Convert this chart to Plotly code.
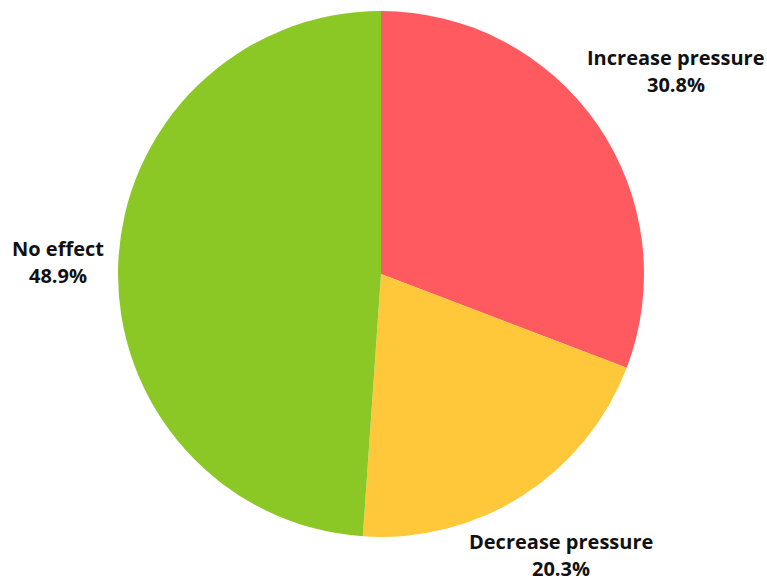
import math
import plotly.graph_objects as go

# Survey responses: effect on pressure
labels = ["Increase pressure", "Decrease pressure", "No effect"]
shares = [30.8, 20.3, 48.9]
colors = ["#FF5A5F", "#FFC83A", "#8BC826"]
# distance of each label's centre from the pie centre, in pie radii
label_dist = [1.36, 1.27, 1.23]

W, H = 767, 581
CX, CY, R = 381, 274, 263  # pie centre and radius in pixels (from top-left)

fig = go.Figure(go.Pie(
    labels=labels,
    values=shares,
    sort=False,
    direction="clockwise",
    rotation=0,
    marker=dict(colors=colors, line=dict(width=0)),
    textinfo="none",
    hoverinfo="label+percent",
    showlegend=False,
    domain=dict(
        x=[(CX - R) / W, (CX + R) / W],
        y=[(H - CY - R) / H, (H - CY + R) / H],
    ),
))

# place each label on its slice's mid-angle, outside the pie
total = sum(shares)
start = 0.0
font = dict(family="Open Sans", size=20, color="#111111")
for name, val, dist in zip(labels, shares, label_dist):
    mid = (start + val / 2) / total * 2 * math.pi
    start += val
    px = CX + dist * R * math.sin(mid)
    py = CY - dist * R * math.cos(mid)
    for text, dy in ((f"<b>{name}</b>", -14), (f"<b>{val:.1f}%</b>", 13)):
        fig.add_annotation(
            x=px / W, y=1 - (py + dy) / H,
            xref="paper", yref="paper",
            text=text, showarrow=False,
            xanchor="center", yanchor="middle",
            font=font,
        )

fig.update_layout(
    width=W, height=H,
    margin=dict(l=0, r=0, t=0, b=0),
    paper_bgcolor="white",
    plot_bgcolor="white",
)

fig.write_html("out.html")
